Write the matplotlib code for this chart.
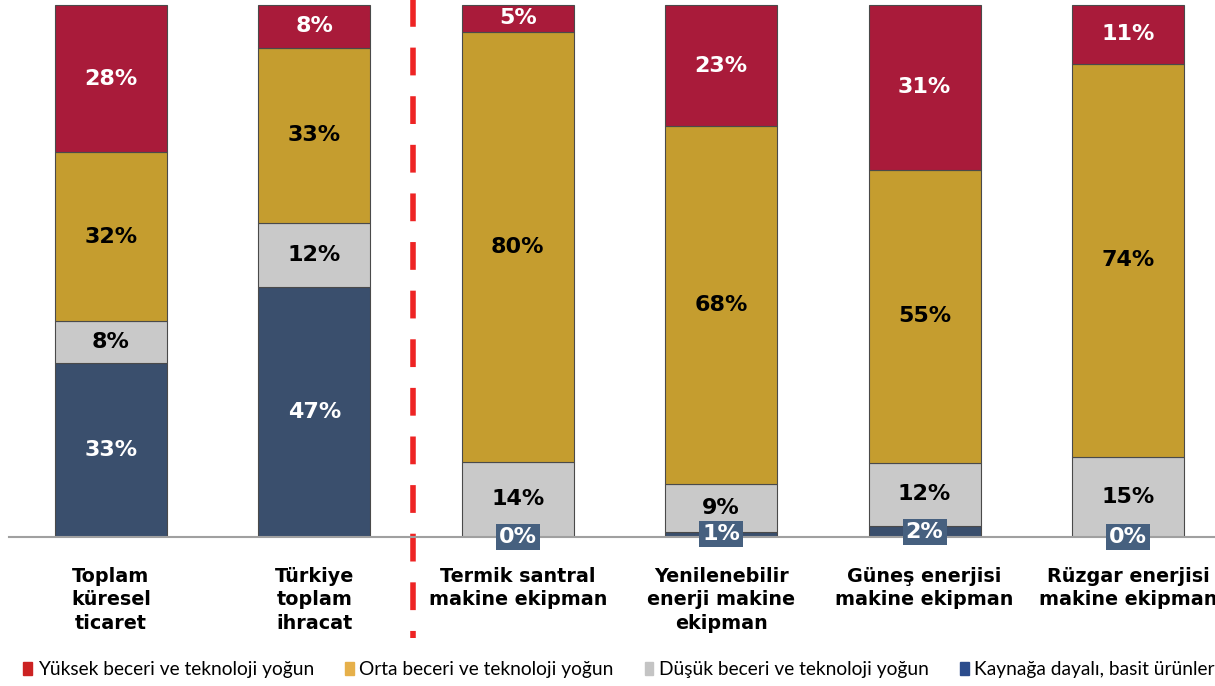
import matplotlib
matplotlib.use("Agg")
import matplotlib.pyplot as plt
import numpy as np

categories = [
    "Toplam\nküresel\nticaret",
    "Türkiye\ntoplam\nihracat",
    "Termik santral\nmakine ekipman",
    "Yenilenebilir\nenerji makine\nekipman",
    "Güneş enerjisi\nmakine ekipman",
    "Rüzgar enerjisi\nmakine ekipman",
]
series_names = [
    "Yüksek beceri ve teknoloji yoğun",
    "Orta beceri ve teknoloji yoğun",
    "Düşük beceri ve teknoloji yoğun",
    "Kaynağa dayalı, basit ürünler",
]
kaynak = [33, 47, 0, 1, 2, 0]
dusuk = [8, 12, 14, 9, 12, 15]
orta = [32, 33, 80, 68, 55, 74]
yuksek = [28, 8, 5, 23, 31, 11]

bar_colors = {"kaynak": "#3a4f6d", "dusuk": "#c9c9c9", "orta": "#c59d2f", "yuksek": "#a91b3a"}
legend_colors = ["#cc2222", "#e6b04a", "#c4c4c4", "#2b4c8c"]
text_colors = {"kaynak": "white", "dusuk": "black", "orta": "black", "yuksek": "white"}

fig = plt.figure(figsize=(12.15, 6.86), dpi=100)
px_per_unit = 203.4
xmin = -111 / px_per_unit
xmax = xmin + 1215 / px_per_unit
ytop = 101
ax = fig.add_axes([0, 149 / 686, 1, (532 / 686) * ytop / 100])
ax.set_xlim(xmin, xmax)
ax.set_ylim(0, ytop)
ax.axis("off")

x = np.arange(len(categories))
width = 0.55
stack = [("kaynak", kaynak), ("dusuk", dusuk), ("orta", orta), ("yuksek", yuksek)]
# 100% stacked: each segment is its share of the bar total
totals = np.sum([vals for _, vals in stack], axis=0).astype(float)
bottom = np.zeros(len(categories))
for key, vals in stack:
    vals = np.array(vals, dtype=float)
    heights = vals / totals * 100
    ax.bar(x, heights, width, bottom=bottom, color=bar_colors[key],
           edgecolor="#4a4a4a", linewidth=0.8, zorder=2)
    for i, v in enumerate(vals):
        yc = bottom[i] + heights[i] / 2
        lbl = f"{int(v)}%"
        if key == "kaynak" and v < 5:
            ax.text(x[i], yc, lbl, ha="center", va="center", color="white",
                    fontsize=16, fontweight="bold", zorder=5,
                    bbox=dict(boxstyle="square,pad=0.14", fc="#46607f", ec="none"))
        else:
            ax.text(x[i], yc, lbl, ha="center", va="center", color=text_colors[key],
                    fontsize=16, fontweight="bold", zorder=5)
    bottom += heights

# baseline
ax.plot([-0.5, xmax], [0, 0], color="#a0a0a0", linewidth=1.5, zorder=3, clip_on=False)

# separator between totals and sector bars
ax.plot([1.484, 1.484], [ytop + 0.4, -19.0], color="#ee2424", linewidth=4,
        linestyle=(0, (5, 3.75)), clip_on=False, zorder=1)

for i, cat in enumerate(categories):
    ax.text(x[i], -5.6, cat, ha="center", va="top", fontsize=13.8, fontweight="bold",
            linespacing=1.3, color="black")

handles = [plt.Rectangle((0, 0), 1, 1, color=c) for c in legend_colors]
fig.legend(handles, series_names, loc="lower left", bbox_to_anchor=(0.005, -0.014),
           ncol=4, frameon=False, handlelength=0.45, handleheight=0.65,
           handletextpad=0.3, columnspacing=1.62, prop={"family": "Lato", "size": 13.8})

fig.savefig("out.png", dpi=100)
